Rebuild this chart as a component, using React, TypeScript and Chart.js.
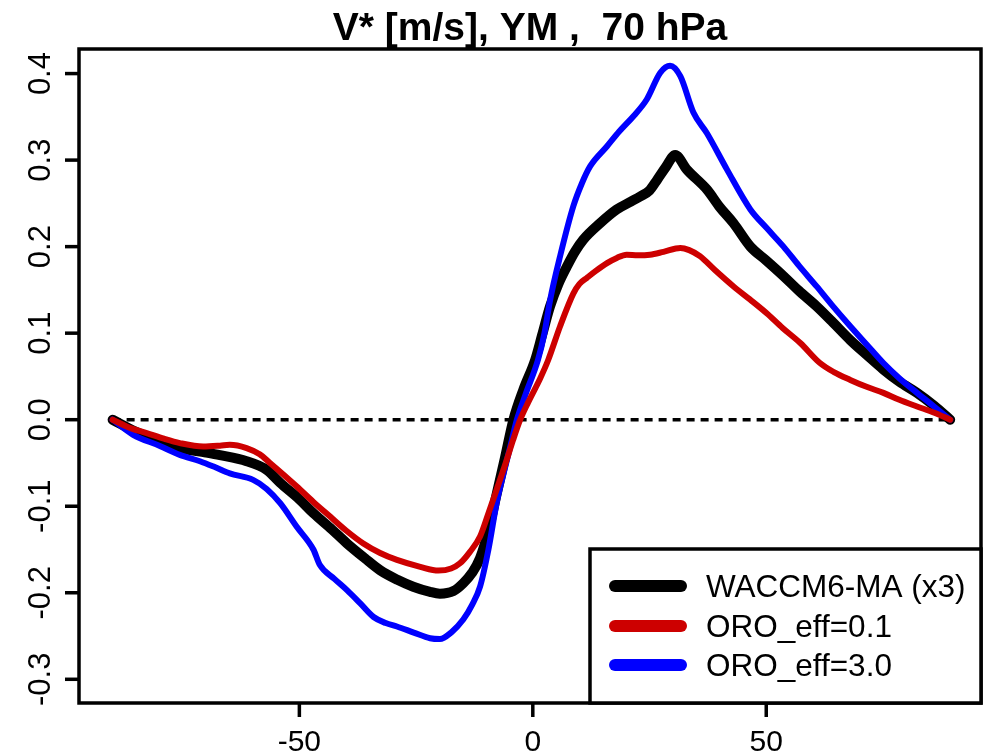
import React, { useEffect, useRef } from "react";
import { Chart, registerables } from "chart.js";
Chart.register(...registerables);

const TITLE = "V* [m/s], YM ,  70 hPa";
const X_TICKS = [-50, 0, 50];
const X_TICK_LABELS = ["-50", "0", "50"];
const Y_TICKS = [-0.3, -0.2, -0.1, 0.0, 0.1, 0.2, 0.3, 0.4];
const Y_TICK_LABELS = ["-0.3", "-0.2", "-0.1", "0.0", "0.1", "0.2", "0.3", "0.4"];

const SERIES_LABELS = ["WACCM6-MA (x3)", "ORO_eff=0.1", "ORO_eff=3.0"];
const SERIES_COLORS = ["#000000", "#CD0000", "#0000FF"];

const waccmLat = [-90, -85, -80, -75.6, -70, -67, -61.3, -57, -54.1, -50, -47, -43, -39.8, -36, -32.7, -29, -25.6, -22, -19.9, -17, -14.9, -13, -11.3, -9.5, -7.7, -6, -4.15, -2, 0.5, 2, 3.7, 5.5, 7.3, 9, 10.8, 14.4, 18, 21, 23, 25, 26.6, 28.5, 30.5, 33, 37.3, 40, 43, 46.6, 50, 53.7, 57, 60.8, 64, 68, 71.5, 75.1, 78.5, 82.3, 86, 89.4];
const waccmV = [0, -0.014, -0.025, -0.033, -0.038, -0.041, -0.048, -0.058, -0.073, -0.092, -0.108, -0.127, -0.143, -0.16, -0.174, -0.185, -0.193, -0.199, -0.201, -0.198, -0.189, -0.177, -0.16, -0.128, -0.085, -0.045, 0.0, 0.035, 0.069, 0.098, 0.131, 0.157, 0.177, 0.194, 0.208, 0.227, 0.243, 0.252, 0.258, 0.265, 0.277, 0.292, 0.306, 0.289, 0.266, 0.246, 0.227, 0.2, 0.184, 0.166, 0.149, 0.131, 0.114, 0.092, 0.075, 0.058, 0.044, 0.031, 0.016, 0.0];

const oro01Lat = [-90, -86, -82.7, -79, -75.6, -70.6, -67, -64.9, -61.3, -58.5, -56.3, -53.5, -50.6, -47, -43.4, -40, -36.3, -32.7, -29.1, -24.1, -20.2, -17.5, -15.6, -13.5, -11.3, -9.5, -7.7, -5.8, -4.2, -2.7, -1, 1.6, 3.3, 5.85, 8.7, 10, 11.6, 13.5, 15.9, 18, 20.1, 22.5, 25.1, 28, 31.6, 33.5, 35.8, 39, 43, 46.5, 50.1, 53.5, 57.3, 61.5, 64.5, 68, 71.5, 75.1, 78.5, 82.3, 86, 89.4];
const oro01V = [0, -0.01, -0.0155, -0.022, -0.027, -0.031, -0.03, -0.029, -0.0328, -0.04, -0.05, -0.063, -0.077, -0.095, -0.112, -0.128, -0.143, -0.154, -0.162, -0.17, -0.1744, -0.172, -0.166, -0.153, -0.135, -0.108, -0.08, -0.05, -0.023, 0.0, 0.02, 0.048, 0.069, 0.108, 0.146, 0.157, 0.164, 0.172, 0.181, 0.187, 0.1907, 0.19, 0.1907, 0.194, 0.1985, 0.196, 0.189, 0.173, 0.154, 0.139, 0.123, 0.106, 0.0886, 0.0655, 0.055, 0.046, 0.038, 0.031, 0.023, 0.0153, 0.008, 0.0];

const oro30Lat = [-90, -85.6, -80, -75.6, -71.3, -68, -64.9, -59.9, -57, -54.1, -50.6, -47, -45.6, -42.5, -39.8, -37, -34.1, -31.5, -29.1, -25.5, -22, -19.9, -17.5, -14.9, -13, -11.3, -9.5, -7.7, -6.6, -5, -3.4, -1.5, 1.1, 2.5, 3.7, 5.85, 8.7, 10.5, 12.3, 15.9, 18.5, 21.6, 24.4, 27.3, 29.4, 31.6, 34.4, 37.3, 41.6, 46.6, 50, 53.7, 57, 60.8, 64, 68, 71.5, 75.1, 78.5, 82.3, 86, 89.4];
const oro30V = [0, -0.0175, -0.03, -0.0406, -0.048, -0.055, -0.062, -0.0695, -0.08, -0.0965, -0.1235, -0.15, -0.168, -0.184, -0.197, -0.212, -0.228, -0.235, -0.239, -0.246, -0.2526, -0.2535, -0.246, -0.231, -0.214, -0.193, -0.15, -0.095, -0.0695, -0.035, 0.0, 0.03, 0.069, 0.1, 0.138, 0.189, 0.247, 0.273, 0.293, 0.316, 0.333, 0.351, 0.37, 0.401, 0.409, 0.397, 0.355, 0.331, 0.289, 0.243, 0.222, 0.2, 0.178, 0.154, 0.133, 0.108, 0.087, 0.0655, 0.048, 0.031, 0.015, 0.0];

const zeroLat = [-90, 90];
const zeroV = [0, 0];

const FONT = '"Liberation Sans", Arial, Helvetica, sans-serif';

const toPts = (xs: number[], ys: number[]) => xs.map((x, i) => ({ x, y: ys[i] }));

const decorPlugin = {
  id: "decor",
  afterDraw(chart: any) {
    const { ctx, chartArea } = chart;
    const xs = chart.scales.x;
    const ys = chart.scales.y;
    ctx.save();
    // title
    ctx.fillStyle = "#000";
    ctx.font = `bold 39px ${FONT}`;
    ctx.textAlign = "center";
    ctx.textBaseline = "alphabetic";
    ctx.fillText(TITLE, (chartArea.left + chartArea.right) / 2, 40);

    // box
    ctx.strokeStyle = "#000";
    ctx.lineWidth = 3.5;
    ctx.strokeRect(chartArea.left, chartArea.top, chartArea.right - chartArea.left, chartArea.bottom - chartArea.top);

    // ticks
    ctx.lineCap = "butt";
    ctx.lineWidth = 3.5;
    X_TICKS.forEach((v, i) => {
      const px = xs.getPixelForValue(v);
      ctx.beginPath();
      ctx.moveTo(px, chartArea.bottom);
      ctx.lineTo(px, chartArea.bottom + 14);
      ctx.stroke();
      ctx.font = `30px ${FONT}`;
      ctx.textAlign = "center";
      ctx.textBaseline = "alphabetic";
      ctx.fillText(X_TICK_LABELS[i], px, 751);
    });
    Y_TICKS.forEach((v, i) => {
      const py = ys.getPixelForValue(v);
      ctx.beginPath();
      ctx.moveTo(chartArea.left, py);
      ctx.lineTo(chartArea.left - 14, py);
      ctx.stroke();
      ctx.save();
      ctx.translate(50, py);
      ctx.rotate(-Math.PI / 2);
      ctx.font = `31px ${FONT}`;
      ctx.textAlign = "center";
      ctx.textBaseline = "alphabetic";
      ctx.fillText(Y_TICK_LABELS[i], 0, 0);
      ctx.restore();
    });

    // legend
    const lx = 590, ly = 549;
    const lw = chartArea.right - lx, lh = chartArea.bottom - ly;
    ctx.fillStyle = "#fff";
    ctx.fillRect(lx, ly, lw, lh);
    ctx.lineWidth = 3.5;
    ctx.strokeStyle = "#000";
    ctx.strokeRect(lx, ly, lw, lh);
    const rows = [586, 626, 665];
    SERIES_LABELS.forEach((lab, i) => {
      ctx.strokeStyle = SERIES_COLORS[i];
      ctx.lineWidth = 12;
      ctx.lineCap = "round";
      ctx.beginPath();
      ctx.moveTo(615, rows[i]);
      ctx.lineTo(681, rows[i]);
      ctx.stroke();
      ctx.fillStyle = "#000";
      ctx.font = `31.5px ${FONT}`;
      ctx.textAlign = "left";
      ctx.textBaseline = "alphabetic";
      ctx.fillText(lab, 706, rows[i] + 11);
    });
    ctx.restore();
  },
};

export default function App() {
  const ref = useRef<HTMLCanvasElement | null>(null);
  useEffect(() => {
    if (!ref.current) return;
    const chart = new Chart(ref.current, {
      type: "line",
      data: {
        datasets: [
          {
            label: "zero",
            data: toPts(zeroLat, zeroV),
            borderColor: "#000",
            borderWidth: 3.5,
            borderDash: [8, 6],
            pointRadius: 0,
            order: 4,
          },
          {
            label: SERIES_LABELS[0],
            data: toPts(waccmLat, waccmV),
            borderColor: SERIES_COLORS[0],
            borderWidth: 10,
            pointRadius: 0,
            cubicInterpolationMode: "monotone",
            borderCapStyle: "round",
            borderJoinStyle: "round",
            order: 3,
          },
          {
            label: SERIES_LABELS[2],
            data: toPts(oro30Lat, oro30V),
            borderColor: SERIES_COLORS[2],
            borderWidth: 6,
            pointRadius: 0,
            cubicInterpolationMode: "monotone",
            borderCapStyle: "round",
            borderJoinStyle: "round",
            order: 2,
          },
          {
            label: SERIES_LABELS[1],
            data: toPts(oro01Lat, oro01V),
            borderColor: SERIES_COLORS[1],
            borderWidth: 6,
            pointRadius: 0,
            cubicInterpolationMode: "monotone",
            borderCapStyle: "round",
            borderJoinStyle: "round",
            order: 1,
          },
        ],
      },
      options: {
        animation: false,
        responsive: false,
        maintainAspectRatio: false,
        layout: { padding: { left: 0, right: 3, top: 49, bottom: 0 } },
        plugins: { legend: { display: false }, title: { display: false }, tooltip: { enabled: false } },
        scales: {
          x: {
            type: "linear",
            min: -97.2,
            max: 96.0,
            grid: { display: false },
            border: { display: false },
            ticks: { display: false },
            afterBuildTicks: (s: any) => {
              s.ticks = X_TICKS.map((v) => ({ value: v }));
            },
            afterFit: (s: any) => {
              s.height = 53;
            },
          },
          y: {
            type: "linear",
            min: -0.3274,
            max: 0.4284,
            grid: { display: false },
            border: { display: false },
            ticks: { display: false },
            afterBuildTicks: (s: any) => {
              s.ticks = Y_TICKS.map((v) => ({ value: v }));
            },
            afterFit: (s: any) => {
              s.width = 79;
            },
          },
        },
      },
      plugins: [decorPlugin],
    } as any);
    return () => chart.destroy();
  }, []);
  return (
    <div style={{ position: "fixed", left: 0, top: 0, width: 984, height: 756, background: "#fff" }}>
      <canvas ref={ref} width={984} height={756} style={{ width: 984, height: 756 }} />
    </div>
  );
}
